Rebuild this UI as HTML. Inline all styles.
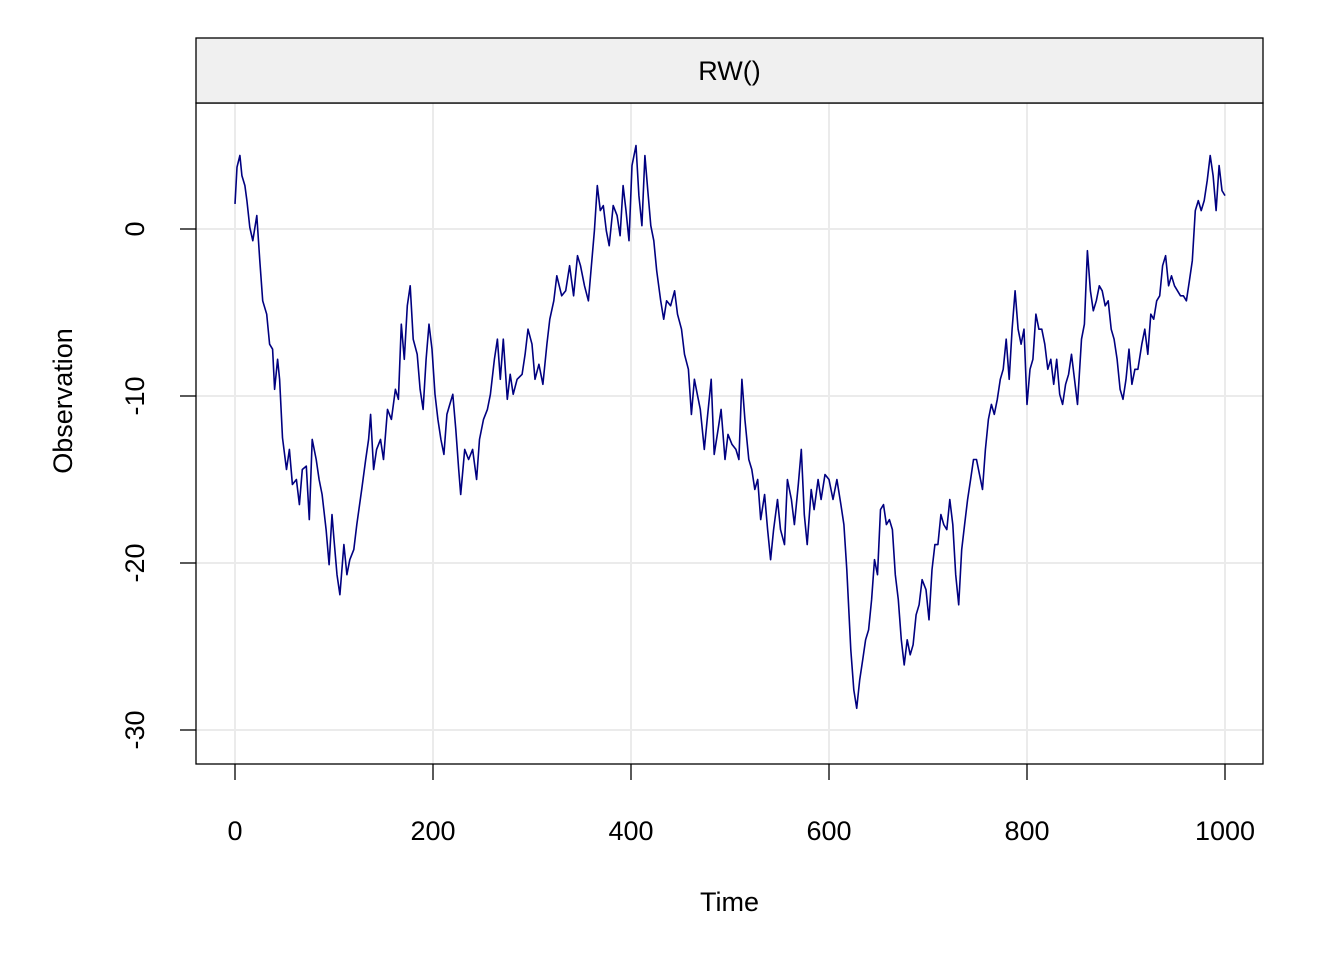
<!DOCTYPE html>
<html><head><meta charset="utf-8"><style>
html,body{margin:0;padding:0;background:#fff;}
svg{display:block;font-family:"Liberation Sans",Arial,sans-serif;}
</style></head><body>
<svg id="chart" width="1344" height="960" viewBox="0 0 1344 960" xmlns="http://www.w3.org/2000/svg">
<rect x="0" y="0" width="1344" height="960" fill="#fff"/>
<g id="grid"></g>
<g id="series"></g>
<rect x="196" y="103" width="1067" height="661" fill="none" stroke="#000" stroke-width="1.3"/>
<rect x="196" y="38" width="1067" height="65" fill="#f0f0f0" stroke="#000" stroke-width="1.3"/>
<text x="729.5" y="80" font-size="27" text-anchor="middle">RW()</text>
<g id="axes"></g>
<text x="729.5" y="911" font-size="27" text-anchor="middle">Time</text>
<text transform="translate(72,401) rotate(-90)" font-size="27" text-anchor="middle">Observation</text>
</svg>
<script>
const times=[0,2,5,7,10,12,15,18,22,25,28,32,35,38,40,43,45,48,52,55,58,62,65,68,72,75,78,82,85,88,92,95,98,100,103,106,110,113,116,120,123,128,132,135,137,140,143,147,150,154,158,162,165,168,171,174,177,180,184,187,190,193,196,199,202,205,208,211,214,217,220,223,226,228,232,236,240,244,247,251,255,258,262,265,268,271,275,278,281,285,290,293,296,300,303,307,311,315,318,322,325,330,334,338,342,346,349,353,357,360,363,366,369,372,375,378,382,386,389,392,395,398,401,405,408,411,414,417,420,423,426,430,433,436,440,444,447,451,454,458,461,464,467,470,474,477,481,484,488,491,495,498,502,506,509,512,515,519,522,525,528,531,535,538,541,544,548,551,555,558,562,565,569,572,575,578,582,585,589,592,596,600,604,608,612,615,618,620,622,625,628,631,634,637,640,643,646,649,652,655,658,661,664,667,670,673,676,679,682,685,688,691,694,698,701,704,707,710,713,716,719,722,725,728,731,734,737,740,743,746,749,752,755,758,761,764,767,770,773,776,779,782,785,788,791,794,797,800,803,806,809,812,815,818,821,824,827,830,833,836,839,842,845,848,851,855,858,861,864,867,870,873,876,879,882,885,888,891,894,897,900,903,906,909,912,916,919,922,925,928,931,934,937,940,943,946,949,952,955,958,961,964,967,970,973,976,979,982,985,988,991,994,997,1000];
const values=[1.5,3.7,4.4,3.2,2.6,1.7,0.1,-0.7,0.8,-1.9,-4.3,-5.1,-6.9,-7.2,-9.6,-7.8,-9.0,-12.5,-14.4,-13.2,-15.3,-15.0,-16.5,-14.4,-14.2,-17.4,-12.6,-13.8,-15.0,-15.9,-18.0,-20.1,-17.1,-18.6,-20.7,-21.9,-18.9,-20.7,-19.8,-19.2,-17.7,-15.6,-13.8,-12.6,-11.1,-14.4,-13.2,-12.6,-13.8,-10.8,-11.4,-9.6,-10.2,-5.7,-7.8,-4.6,-3.4,-6.6,-7.5,-9.6,-10.8,-7.8,-5.7,-7.2,-9.9,-11.4,-12.6,-13.5,-11.1,-10.5,-9.9,-12.0,-14.4,-15.9,-13.2,-13.8,-13.2,-15.0,-12.6,-11.4,-10.8,-9.9,-7.8,-6.6,-9.0,-6.6,-10.2,-8.7,-9.9,-9.0,-8.7,-7.5,-6.0,-6.9,-9.0,-8.1,-9.3,-6.9,-5.4,-4.3,-2.8,-4.0,-3.7,-2.2,-4.0,-1.6,-2.2,-3.4,-4.3,-2.2,-0.1,2.6,1.1,1.4,-0.1,-1.0,1.4,0.8,-0.4,2.6,1.1,-0.7,3.8,5.0,2.0,0.2,4.4,2.3,0.2,-0.7,-2.5,-4.3,-5.4,-4.3,-4.6,-3.7,-5.1,-6.0,-7.5,-8.4,-11.1,-9.0,-9.9,-10.8,-13.2,-11.4,-9.0,-13.5,-12.0,-10.8,-13.8,-12.3,-12.9,-13.2,-13.8,-9.0,-11.4,-13.8,-14.4,-15.6,-15.0,-17.4,-15.9,-18.0,-19.8,-18.0,-16.2,-18.0,-18.9,-15.0,-16.2,-17.7,-15.3,-13.2,-17.1,-18.9,-15.6,-16.8,-15.0,-16.2,-14.7,-15.0,-16.2,-15.0,-16.5,-17.7,-20.4,-22.8,-25.2,-27.6,-28.7,-27.0,-25.8,-24.6,-24.0,-22.2,-19.8,-20.7,-16.8,-16.5,-17.7,-17.4,-18.0,-20.7,-22.2,-24.6,-26.1,-24.6,-25.5,-24.9,-23.1,-22.5,-21.0,-21.6,-23.4,-20.4,-18.9,-18.9,-17.1,-17.7,-18.0,-16.2,-17.7,-20.7,-22.5,-19.2,-17.7,-16.2,-15.0,-13.8,-13.8,-14.7,-15.6,-13.2,-11.4,-10.5,-11.1,-10.2,-9.0,-8.4,-6.6,-9.0,-6.0,-3.7,-6.0,-6.9,-6.0,-10.5,-8.4,-7.8,-5.1,-6.0,-6.0,-6.9,-8.4,-7.8,-9.3,-7.8,-9.9,-10.5,-9.3,-8.7,-7.5,-9.0,-10.5,-6.6,-5.7,-1.3,-3.7,-4.9,-4.3,-3.4,-3.7,-4.6,-4.3,-6.0,-6.6,-7.8,-9.6,-10.2,-9.0,-7.2,-9.3,-8.4,-8.4,-6.9,-6.0,-7.5,-5.1,-5.4,-4.3,-4.0,-2.2,-1.6,-3.4,-2.8,-3.4,-3.7,-4.0,-4.0,-4.3,-3.1,-1.9,1.1,1.7,1.1,1.7,2.9,4.4,3.2,1.1,3.8,2.3,2.0];
const xTicks=[0,200,400,600,800,1000];
const yTicks=[0,-10,-20,-30];
const xTickLabels=["0","200","400","600","800","1000"];
const yTickLabels=["0","-10","-20","-30"];

const NS="http://www.w3.org/2000/svg";
function xs(t){return 235+t*0.99;}
function ys(v){return 229-v*16.7;}
function mk(tag,attrs,parent){const e=document.createElementNS(NS,tag);for(const k in attrs)e.setAttribute(k,attrs[k]);parent.appendChild(e);return e;}
const grid=document.getElementById('grid'),axes=document.getElementById('axes'),series=document.getElementById('series');
xTicks.forEach((t,i)=>{
  const g=mk('line',{x1:xs(t),x2:xs(t),y1:103,y2:764,stroke:'#ebebeb','stroke-width':2},grid);
  
  
  const tk=mk('line',{x1:xs(t),x2:xs(t),y1:764,y2:780,stroke:'#000','stroke-width':1.3},axes);
  
  
  const lb=mk('text',{x:xs(t),y:840,'font-size':27,'text-anchor':'middle'},axes);
  lb.textContent=xTickLabels[i];
  
  
});
yTicks.forEach((v,i)=>{
  const g=mk('line',{x1:196,x2:1263,y1:ys(v),y2:ys(v),stroke:'#ebebeb','stroke-width':2},grid);
  
  
  const tk=mk('line',{x1:180,x2:196,y1:ys(v),y2:ys(v),stroke:'#000','stroke-width':1.3},axes);
  
  
  const lb=mk('text',{transform:`translate(144,${ys(v)}) rotate(-90)`,'font-size':27,'text-anchor':'middle'},axes);
  lb.textContent=yTickLabels[i];
  
  
});
let d='';
times.forEach((t,i)=>{d+=(i?'L':'M')+xs(t).toFixed(1)+','+ys(values[i]).toFixed(1);});
const p=mk('path',{d:d,fill:'none',stroke:'#000080','stroke-width':1.6,'stroke-linejoin':'round'},series);


</script>
</body></html>
